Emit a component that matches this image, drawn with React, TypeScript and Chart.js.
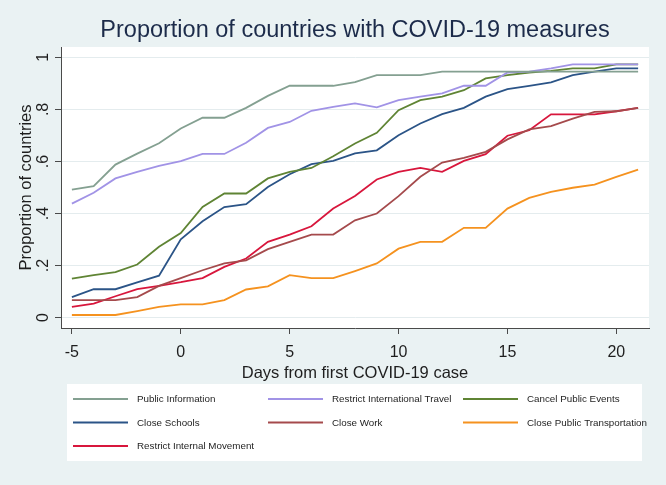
import React, { useEffect, useRef } from 'react';
import { Chart, registerables } from 'chart.js';

Chart.register(...registerables);

// ---------- data ----------
const days = [-5, -4, -3, -2, -1, 0, 1, 2, 3, 4, 5, 6, 7, 8, 9, 10, 11, 12, 13, 14, 15, 16, 17, 18, 19, 20, 21];

const publicInformation = [0.492, 0.505, 0.588, 0.63, 0.67, 0.727, 0.768, 0.768, 0.806, 0.852, 0.891, 0.891, 0.891, 0.905, 0.932, 0.932, 0.932, 0.945, 0.945, 0.945, 0.945, 0.945, 0.945, 0.945, 0.945, 0.945, 0.945];
const restrictInternationalTravel = [0.438, 0.48, 0.535, 0.56, 0.583, 0.601, 0.629, 0.629, 0.672, 0.729, 0.752, 0.795, 0.81, 0.823, 0.808, 0.836, 0.849, 0.862, 0.891, 0.891, 0.942, 0.945, 0.958, 0.973, 0.973, 0.973, 0.973];
const cancelPublicEvents = [0.15, 0.163, 0.175, 0.204, 0.272, 0.325, 0.425, 0.477, 0.477, 0.535, 0.56, 0.575, 0.62, 0.669, 0.71, 0.797, 0.836, 0.849, 0.874, 0.919, 0.932, 0.942, 0.948, 0.958, 0.958, 0.973, 0.973];
const closeSchools = [0.079, 0.109, 0.109, 0.135, 0.161, 0.301, 0.37, 0.425, 0.436, 0.502, 0.551, 0.59, 0.602, 0.631, 0.643, 0.701, 0.746, 0.782, 0.806, 0.849, 0.878, 0.891, 0.904, 0.932, 0.945, 0.958, 0.958];
const closeWork = [0.067, 0.067, 0.067, 0.079, 0.122, 0.152, 0.182, 0.208, 0.22, 0.263, 0.291, 0.319, 0.319, 0.374, 0.4, 0.467, 0.541, 0.596, 0.614, 0.637, 0.685, 0.723, 0.736, 0.765, 0.791, 0.793, 0.806];
const closePublicTransportation = [0.01, 0.01, 0.01, 0.025, 0.041, 0.051, 0.051, 0.067, 0.108, 0.12, 0.163, 0.152, 0.152, 0.179, 0.208, 0.265, 0.291, 0.291, 0.345, 0.345, 0.419, 0.46, 0.483, 0.499, 0.511, 0.541, 0.569];
const restrictInternalMovement = [0.041, 0.054, 0.082, 0.109, 0.122, 0.136, 0.152, 0.195, 0.227, 0.291, 0.319, 0.351, 0.419, 0.467, 0.531, 0.56, 0.575, 0.56, 0.602, 0.628, 0.699, 0.72, 0.781, 0.781, 0.781, 0.793, 0.806];

const seriesNames = [
  'Public Information',
  'Restrict International Travel',
  'Cancel Public Events',
  'Close Schools',
  'Close Work',
  'Close Public Transportation',
  'Restrict Internal Movement',
];
const seriesValues = [
  publicInformation,
  restrictInternationalTravel,
  cancelPublicEvents,
  closeSchools,
  closeWork,
  closePublicTransportation,
  restrictInternalMovement,
];
const seriesColors = ['#84a091', '#a193e6', '#5f8434', '#2b5487', '#a54a4c', '#f5921f', '#d8163c'];

const xTicks = [-5, 0, 5, 10, 15, 20];
const yTicks = [0, 0.2, 0.4, 0.6, 0.8, 1];
const yTickLabels = ['0', '.2', '.4', '.6', '.8', '1'];

const chartTitle = 'Proportion of countries with COVID-19 measures';
const xTitle = 'Days from first COVID-19 case';
const yTitle = 'Proportion of countries';

// ---------- styling ----------
const FONT = '"Liberation Sans", Arial, Helvetica, sans-serif';
const BG = '#eaf2f3';
const GRID = '#e4ecee';
const AXIS = '#4a4a4a';
const TEXT = '#1e1e1e';

const stataPlugin = {
  id: 'stataLook',
  beforeDraw(chart: any) {
    const { ctx, chartArea: a, width, height } = chart;
    ctx.save();
    ctx.fillStyle = BG;
    ctx.fillRect(0, 0, width, height);
    ctx.fillStyle = '#ffffff';
    ctx.fillRect(a.left, a.top, a.right - a.left, a.bottom - a.top);
    ctx.restore();
  },
  afterDraw(chart: any) {
    const { ctx, chartArea: a } = chart;
    ctx.save();
    // title
    ctx.fillStyle = '#1c2b4a';
    ctx.font = `23.5px ${FONT}`;
    ctx.textAlign = 'center';
    ctx.textBaseline = 'middle';
    ctx.fillText(chartTitle, (a.left + a.right) / 2, 31);

    // legend box
    const bx = 67, by = 384, bw = 575, bh = 77;
    ctx.fillStyle = '#ffffff';
    ctx.fillRect(bx, by, bw, bh);
    const colX = [73, 268, 463];
    const lineLen = 55;
    ctx.font = `9.8px ${FONT}`;
    ctx.textAlign = 'left';
    ctx.textBaseline = 'middle';
    chart.data.datasets.forEach((ds: any, i: number) => {
      const col = i % 3;
      const row = Math.floor(i / 3);
      const y = 399 + row * 23.5;
      const x = colX[col];
      ctx.strokeStyle = ds.borderColor;
      ctx.lineWidth = 1.8;
      ctx.beginPath();
      ctx.moveTo(x, y);
      ctx.lineTo(x + lineLen, y);
      ctx.stroke();
      ctx.fillStyle = TEXT;
      ctx.fillText(ds.label, x + 64, y + 0.5);
    });
    ctx.restore();
  },
};

export default function App() {
  const canvasRef = useRef<HTMLCanvasElement | null>(null);

  useEffect(() => {
    const canvas = canvasRef.current;
    if (!canvas) return;
    const chart = new Chart(canvas, {
      type: 'line',
      data: {
        datasets: seriesNames.map((name, i) => ({
          label: name,
          data: days.map((d, j) => ({ x: d, y: seriesValues[i][j] })),
          borderColor: seriesColors[i],
          backgroundColor: seriesColors[i],
          borderWidth: 1.8,
          pointRadius: 0,
          tension: 0,
          fill: false,
        })),
      },
      options: {
        animation: false,
        responsive: false,
        devicePixelRatio: 1,
        layout: { padding: { top: 47, left: 0, right: 17, bottom: 101 } },
        plugins: {
          legend: { display: false },
          title: { display: false },
          tooltip: { enabled: false },
        },
        scales: {
          x: {
            type: 'linear',
            min: -5.5,
            max: 21.5,
            afterBuildTicks: (scale: any) => {
              scale.ticks = xTicks.map((v) => ({ value: v }));
            },
            afterFit: (scale: any) => {
              scale.height = 56;
            },
            grid: {
              display: true,
              drawOnChartArea: false,
              drawTicks: true,
              tickLength: 6,
              tickColor: AXIS,
            },
            border: { display: true, color: AXIS, width: 1 },
            ticks: {
              autoSkip: false,
              maxRotation: 0,
              minRotation: 0,
              padding: 9,
              color: TEXT,
              font: { family: FONT, size: 16 },
              callback: (v: any) => String(v),
            },
            title: {
              display: true,
              text: xTitle,
              color: TEXT,
              font: { family: FONT, size: 16.5 },
              padding: { top: 0, bottom: 1 },
            },
          },
          y: {
            type: 'linear',
            min: -0.04,
            max: 1.04,
            afterBuildTicks: (scale: any) => {
              scale.ticks = yTicks.map((v) => ({ value: v }));
            },
            afterFit: (scale: any) => {
              scale.width = 61;
            },
            grid: {
              display: true,
              drawOnChartArea: true,
              drawTicks: true,
              tickLength: 6,
              color: GRID,
              lineWidth: 1,
              tickColor: AXIS,
            },
            border: { display: true, color: AXIS, width: 1 },
            ticks: {
              autoSkip: false,
              minRotation: 90,
              maxRotation: 90,
              crossAlign: 'center',
              padding: 5,
              color: TEXT,
              font: { family: FONT, size: 16 },
              callback: (_v: any, i: number) => yTickLabels[i],
            },
            title: {
              display: true,
              text: yTitle,
              color: TEXT,
              font: { family: FONT, size: 16.5 },
              padding: { top: 17, bottom: 0 },
            },
          },
        },
      },
      plugins: [stataPlugin],
    } as any);
    return () => chart.destroy();
  }, []);

  return (
    <div style={{ position: 'fixed', left: 0, top: 0, width: 666, height: 485, background: BG }}>
      <canvas ref={canvasRef} width={666} height={485} style={{ display: 'block', width: 666, height: 485 }} />
    </div>
  );
}
